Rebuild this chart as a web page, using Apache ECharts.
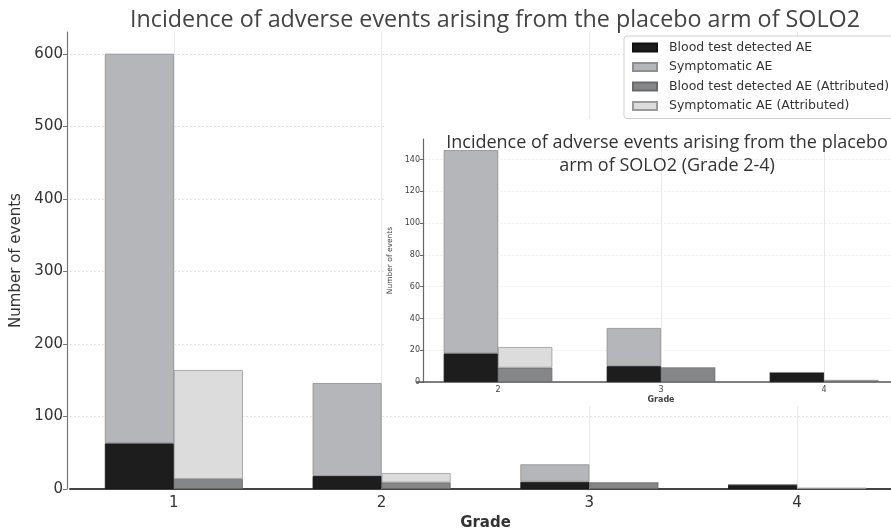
<!DOCTYPE html>
<html>
<head>
<meta charset="utf-8">
<script src="https://cdn.jsdelivr.net/npm/echarts@6/dist/echarts.min.js"></script>
<style>html,body{margin:0;padding:0;background:#fff}#c{width:891px;height:530px}</style>
</head>
<body>
<div id="c"></div>
<script>
// ---- data ----
const grades = ['1', '2', '3', '4'];
const bloodTestAE = [63, 18, 10, 6];
const symptomaticAE = [537, 128, 24, 0];
const bloodTestAttributed = [14, 9, 9, 1];
const symptomaticAttributed = [150, 13, 0, 0];
const insetGrades = ['2', '3', '4'];
const insetBloodTestAE = [18, 10, 6];
const insetSymptomaticAE = [128, 24, 0];
const insetBloodTestAttributed = [9, 9, 1];
const insetSymptomaticAttributed = [13, 0, 0];
const seriesNames = ['Blood test detected AE', 'Symptomatic AE', 'Blood test detected AE (Attributed)', 'Symptomatic AE (Attributed)'];
const mainYTicks = {min: 0, max: 630, interval: 100};
const insetYTicks = {min: 0, max: 153, interval: 20};

const colors = ['#1d1d1d', '#b5b6b9', '#858687', '#dcdcdd'];
const borders = ['#111', '#8e8e90', '#6a6a6a', '#9a9a9a'];
const dj = 'DejaVu Sans';

function bars(names, datas, stacks, xi, yi, width, z) {
  return datas.map((d, i) => ({
    name: names[i], type: 'bar', stack: stacks[i], data: d,
    xAxisIndex: xi, yAxisIndex: yi, barWidth: width, barGap: '0%',
    z: z, silent: true,
    itemStyle: {color: colors[i], borderColor: borders[i], borderWidth: 0.8},
    emphasis: {disabled: true}
  }));
}
function vgrid(xi, yi, cats, z) {
  return {
    name: '', type: 'line', data: [], xAxisIndex: xi, yAxisIndex: yi, silent: true, z: z,
    markLine: {
      silent: true, symbol: 'none', z: z, animation: false,
      label: {show: false},
      lineStyle: {color: '#e9e9e9', width: 1, type: 'solid'},
      data: cats.map((c, i) => ({xAxis: i}))
    }
  };
}

const chart = echarts.init(document.getElementById('c'), null, {renderer: 'canvas'});
chart.setOption({
  animation: false,
  backgroundColor: '#fff',
  title: [
    {text: 'Incidence of adverse events arising from the placebo arm of SOLO2',
     left: 490, textAlign: 'center', top: 4,
     textStyle: {fontFamily: 'Open Sans', fontSize: 23.3, fontWeight: 'normal', color: '#444'}},
    {text: 'Incidence of adverse events arising from the placebo\narm of SOLO2 (Grade 2-4)',
     left: 662, textAlign: 'center', top: 126, z: 13,
     textStyle: {fontFamily: 'Open Sans', fontSize: 18, fontWeight: 'normal', color: '#333', lineHeight: 23}}
  ],
  legend: {
    data: seriesNames, orient: 'vertical', left: 624, top: 36, z: 20,
    padding: [4, 10, 5, 8], itemGap: 4.5, itemWidth: 24, itemHeight: 8, icon: 'rect',
    backgroundColor: '#fff', borderColor: '#cfcfcf', borderWidth: 1, borderRadius: 3,
    selectedMode: false,
    textStyle: {fontFamily: dj, fontSize: 12.5, color: '#333', lineHeight: 15, padding: [0, 0, 0, 7]}
  },
  graphic: [
    {type: 'rect', z: 10, zlevel: 0, silent: true,
     shape: {x: 384, y: 119, width: 507, height: 287}, style: {fill: '#fff'}}
  ],
  grid: [
    {left: 70, width: 831, top: 32, height: 457, outerBoundsMode: 'none', containLabel: false},
    {left: 416.5, width: 489, top: 139, height: 243, z: 11, outerBoundsMode: 'none', containLabel: false}
  ],
  xAxis: [
    {type: 'category', data: grades, gridIndex: 0,
     axisLine: {lineStyle: {color: '#444', width: 2}},
     axisTick: {show: false},
     axisLabel: {fontFamily: dj, fontSize: 15, color: '#333', margin: 7},
     splitLine: {show: false},
     name: 'Grade', nameLocation: 'middle', nameGap: 27,
     nameTextStyle: {fontFamily: dj, fontSize: 15, fontWeight: 'bold', color: '#333'}},
    {type: 'category', data: insetGrades, gridIndex: 1, z: 11,
     axisLine: {lineStyle: {color: '#555', width: 1.5}},
     axisTick: {show: false},
     axisLabel: {fontFamily: dj, fontSize: 8, color: '#444', margin: 4},
     splitLine: {show: false},
     name: 'Grade', nameLocation: 'middle', nameGap: 14,
     nameTextStyle: {fontFamily: dj, fontSize: 8, fontWeight: 'bold', color: '#444'}}
  ],
  yAxis: [
    {type: 'value', gridIndex: 0, min: mainYTicks.min, max: mainYTicks.max, interval: mainYTicks.interval,
     offset: 3,
     axisLine: {show: true, lineStyle: {color: '#777', width: 1.2}},
     axisTick: {show: true, length: 4, lineStyle: {color: '#777'}},
     axisLabel: {fontFamily: dj, fontSize: 15, color: '#333', margin: 4, showMaxLabel: false},
     splitLine: {show: true, showMaxLine: false, lineStyle: {color: '#e2e2e2', type: [2, 2], width: 1}},
     name: 'Number of events', nameLocation: 'middle', nameGap: 37,
     nameTextStyle: {fontFamily: dj, fontSize: 15, color: '#333'}},
    {type: 'value', gridIndex: 1, min: insetYTicks.min, max: insetYTicks.max, interval: insetYTicks.interval,
     offset: -6.5, z: 11,
     axisLine: {show: true, lineStyle: {color: '#666', width: 1.2}},
     axisTick: {show: true, length: 3, lineStyle: {color: '#666'}},
     axisLabel: {fontFamily: dj, fontSize: 8, color: '#444', margin: 3, showMaxLabel: false},
     splitLine: {show: true, showMaxLine: false, lineStyle: {color: '#ececec', type: [2, 2], width: 1}},
     name: 'Number of events', nameLocation: 'middle', nameGap: 24,
     nameTextStyle: {fontFamily: dj, fontSize: 7.5, color: '#444'}}
  ],
  series: [].concat(
    [vgrid(0, 0, grades, 1)],
    bars(seriesNames, [bloodTestAE, symptomaticAE, bloodTestAttributed, symptomaticAttributed],
         ['a', 'a', 'b', 'b'], 0, 0, 69, 2),
    [vgrid(1, 1, insetGrades, 11)],
    bars(seriesNames, [insetBloodTestAE, insetSymptomaticAE, insetBloodTestAttributed, insetSymptomaticAttributed],
         ['c', 'c', 'd', 'd'], 1, 1, 54.3, 12)
  )
});
</script>
</body>
</html>
